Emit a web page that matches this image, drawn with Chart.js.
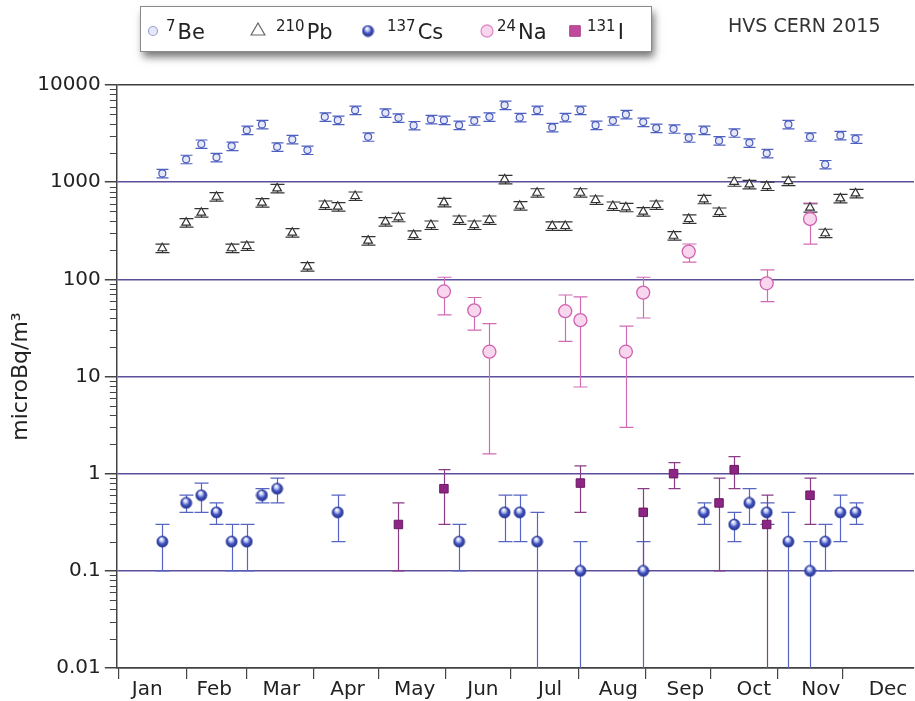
<!DOCTYPE html>
<html>
<head>
<meta charset="utf-8">
<script src="https://cdn.jsdelivr.net/npm/chart.js@4/dist/chart.umd.min.js"></script>
<style>
  html, body { margin: 0; padding: 0; background: #ffffff; }
  #wrap { width: 915px; height: 701px; }
</style>
</head>
<body>
<div id="wrap"><canvas id="chart" width="915" height="701"></canvas></div>
<script>
// Month labels, where they sit and where the month boundaries are (day of year)
const months = ['Jan', 'Feb', 'Mar', 'Apr', 'May', 'Jun', 'Jul', 'Aug', 'Sep', 'Oct', 'Nov', 'Dec'];
const monthLabelDays = [13, 44, 75, 105.5, 136.5, 168, 199, 230.5, 261.5, 293, 324, 355];
const monthStarts = [0, 31, 59, 90, 120, 151, 181, 212, 243, 273, 304, 334];
const yTicks = [0.01, 0.1, 1, 10, 100, 1000, 10000];

// Weekly filter days (day of year), shared by 7Be and 210Pb
const weekDays = [20, 31, 38, 45, 52, 59, 66, 73, 80, 87, 95, 101, 109, 115, 123, 129, 136, 144, 150, 157,
    164, 171, 178, 185, 193, 200, 206, 213, 220, 228, 234, 242, 248, 256, 263, 270, 277, 284, 291, 299,
    309, 319, 326, 333, 340];

// 7Be (microBq/m3)
const beValues = [1230, 1720, 2470, 1800, 2350, 3430, 3930, 2310, 2750, 2140, 4700, 4350, 5510, 2930, 5170,
    4590, 3830, 4420, 4350, 3860, 4280, 4700, 6200, 4630, 5510, 3660, 4630, 5510, 3860, 4280,
    4980, 4150, 3600, 3540, 2860, 3430, 2670, 3220, 2540, 1980, 3930, 2930, 1520, 3030, 2790];
const beRelErr = 0.1;

// 210Pb (microBq/m3)
const pbValues = [209, 383, 485, 708, 209, 220, 615, 863, 302, 135, 582, 559, 720, 250, 392,
    435, 286, 362, 620, 408, 362, 408, 1069, 572, 778, 354, 354, 778, 655, 568,
    551, 497, 582, 281, 418, 666, 493, 1009, 949, 912, 1026, 546, 298, 681, 767];
const pbRelErr = 0.1;

// 137Cs (a lower bound of 0 runs to the bottom of the axis)
const csDays = [20, 31, 38, 45, 52, 59, 66, 73, 101, 157, 178, 185, 193, 213, 242, 270, 284, 291, 299, 309, 319, 326, 333, 340];
const csValues = [0.2, 0.5, 0.6, 0.4, 0.2, 0.2, 0.6, 0.7, 0.4, 0.2, 0.4, 0.4, 0.2, 0.1, 0.1, 0.4, 0.3, 0.5, 0.4, 0.2, 0.1, 0.2, 0.4, 0.4];
const csLow = [0.1, 0.4, 0.4, 0.3, 0.1, 0.1, 0.5, 0.5, 0.2, 0.1, 0.2, 0.2, 0, 0, 0, 0.3, 0.2, 0.3, 0.3, 0, 0, 0.1, 0.2, 0.3];
const csHigh = [0.3, 0.6, 0.8, 0.5, 0.3, 0.3, 0.7, 0.9, 0.6, 0.3, 0.6, 0.6, 0.4, 0.2, 0.2, 0.5, 0.4, 0.7, 0.5, 0.4, 0.2, 0.3, 0.6, 0.5];

// 24Na
const naDays = [150, 164, 171, 206, 213, 234, 242, 263, 299, 319];
const naValues = [75, 48, 18, 47, 38, 18, 73, 193, 91, 418];
const naLow = [43, 30, 1.6, 23, 7.8, 3.0, 40, 150, 59, 230];
const naHigh = [105, 65, 35, 69, 66, 33, 105, 231, 125, 610];

// 131I
const iDays = [129, 150, 213, 242, 256, 277, 284, 299, 319];
const iValues = [0.3, 0.7, 0.8, 0.4, 1.0, 0.5, 1.1, 0.3, 0.6];
const iLow = [0.1, 0.3, 0.4, 0.1, 0.7, 0.1, 0.7, 0, 0.3];
const iHigh = [0.5, 1.1, 1.2, 0.7, 1.3, 0.9, 1.5, 0.6, 0.9];

const FONT = '"DejaVu Sans", Verdana, sans-serif';

function toPoints(days, values) {
    return days.map((d, i) => ({ x: d, y: values[i] }));
}

// shaded blue ball used as the 137Cs marker
function makeSphere(r) {
    const c = document.createElement('canvas');
    const s = Math.ceil(2 * r + 2);
    c.width = s;
    c.height = s;
    const g = c.getContext('2d');
    const cx = s / 2, cy = s / 2;
    const grad = g.createRadialGradient(cx - r * 0.2, cy - r * 0.5, r * 0.1, cx, cy, r);
    grad.addColorStop(0, '#ffffff');
    grad.addColorStop(0.35, '#aab4ee');
    grad.addColorStop(0.6, '#4456c0');
    grad.addColorStop(1, '#24328f');
    g.fillStyle = grad;
    g.beginPath();
    g.arc(cx, cy, r, 0, Math.PI * 2);
    g.fill();
    g.strokeStyle = '#2b3894';
    g.lineWidth = 0.8;
    g.stroke();
    return c;
}
const sphere = makeSphere(5.5);

// Error bars drawn under the markers
const errorBars = {
    id: 'errorBars',
    beforeDatasetsDraw(chart) {
        const { ctx, chartArea, scales } = chart;
        const x = scales.x, y = scales.y;
        ctx.save();
        ctx.beginPath();
        ctx.rect(chartArea.left, chartArea.top, chartArea.width, chartArea.height);
        ctx.clip();
        chart.data.datasets.forEach(ds => {
            if (!ds.errLow) return;
            ctx.strokeStyle = ds.errColor;
            ctx.lineWidth = 1.2;
            const cap = ds.capHalf;
            ds.data.forEach((p, i) => {
                const px = Math.round(x.getPixelForValue(p.x)) + 0.5;
                const hiV = ds.errHigh[i], loV = ds.errLow[i];
                const pyHi = y.getPixelForValue(hiV);
                const pyLo = loV > 0 ? y.getPixelForValue(loV) : chartArea.bottom + 2;
                ctx.beginPath();
                ctx.moveTo(px, pyHi);
                ctx.lineTo(px, pyLo);
                ctx.moveTo(px - cap, pyHi);
                ctx.lineTo(px + cap, pyHi);
                if (loV > 0) {
                    ctx.moveTo(px - cap, pyLo);
                    ctx.lineTo(px + cap, pyLo);
                }
                ctx.stroke();
            });
        });
        ctx.restore();
    }
};

// short minor tick marks on the log axis
const minorTicks = {
    id: 'minorTicks',
    afterDraw(chart) {
        const { ctx } = chart;
        const y = chart.scales.y;
        ctx.save();
        ctx.strokeStyle = '#444';
        ctx.lineWidth = 1;
        for (let k = -2; k < 4; k++) {
            for (let m = 2; m < 10; m++) {
                const py = Math.round(y.getPixelForValue(m * Math.pow(10, k))) + 0.5;
                ctx.beginPath();
                ctx.moveTo(y.right - 7, py);
                ctx.lineTo(y.right, py);
                ctx.stroke();
            }
        }
        ctx.restore();
    }
};

// boxed legend with drop shadow, plus the "HVS CERN 2015" note
const SUP = '⁰¹²³⁴⁵⁶⁷⁸⁹';
const legendMarkX = [153, 258, 368, 487, 575];
const legendTextX = [166, 276, 387, 497, 587];
const boxLegend = {
    id: 'boxLegend',
    afterDraw(chart) {
        const { ctx } = chart;
        ctx.save();
        ctx.shadowColor = 'rgba(0,0,0,0.55)';
        ctx.shadowBlur = 8;
        ctx.shadowOffsetX = 3;
        ctx.shadowOffsetY = 6;
        ctx.fillStyle = '#ffffff';
        ctx.fillRect(140, 6, 511, 45);
        ctx.restore();
        ctx.save();
        ctx.strokeStyle = '#8a8a8a';
        ctx.lineWidth = 1;
        ctx.strokeRect(140.5, 6.5, 511, 45);
        ctx.textBaseline = 'alphabetic';
        chart.data.datasets.forEach((ds, i) => {
            const mx = legendMarkX[i];
            ctx.fillStyle = ds.legendFill || ds.pointBackgroundColor;
            ctx.strokeStyle = ds.legendBorder || ds.pointBorderColor;
            ctx.lineWidth = ds.pointBorderWidth || 1;
            Chart.helpers.drawPoint(ctx, {
                pointStyle: ds.pointStyle,
                rotation: 0,
                radius: ds.legendRadius,
                borderWidth: ds.pointBorderWidth || 0
            }, mx, 31);
            // mass number as a raised smaller run, symbol at full size
            let sup = '', sym = '';
            for (const ch of ds.label) {
                const k = SUP.indexOf(ch);
                if (k >= 0) sup += String(k); else sym += ch;
            }
            ctx.fillStyle = '#222';
            ctx.font = '15px ' + FONT;
            ctx.fillText(sup, legendTextX[i], 31);
            const w = ctx.measureText(sup).width;
            ctx.font = '21px ' + FONT;
            ctx.fillText(sym, legendTextX[i] + w + 2, 39);
        });
        ctx.font = '19px ' + FONT;
        ctx.fillStyle = '#333';
        ctx.textBaseline = 'middle';
        ctx.fillText('HVS CERN 2015', 728, 27);
        ctx.restore();
    }
};

const datasets = [
    {
        label: '⁷Be',
        data: toPoints(weekDays, beValues),
        errLow: beValues.map(v => v * (1 - beRelErr)),
        errHigh: beValues.map(v => v * (1 + beRelErr)),
        errColor: '#4d5fbf',
        capHalf: 6,
        pointStyle: 'circle',
        pointRadius: 3.5,
        legendRadius: 4.5,
        legendBorder: '#9aa3d8',
        pointBackgroundColor: '#e6e8f8',
        pointBorderColor: '#4d5fbf',
        pointBorderWidth: 1.2
    },
    {
        label: '²¹⁰Pb',
        data: toPoints(weekDays, pbValues),
        errLow: pbValues.map(v => v * (1 - pbRelErr)),
        errHigh: pbValues.map(v => v * (1 + pbRelErr)),
        errColor: '#333333',
        capHalf: 7,
        pointStyle: 'triangle',
        pointRadius: 5,
        legendRadius: 8,
        legendBorder: '#666666',
        pointBackgroundColor: '#ffffff',
        pointBorderColor: '#333333',
        pointBorderWidth: 1.2
    },
    {
        label: '¹³⁷Cs',
        data: toPoints(csDays, csValues),
        errLow: csLow,
        errHigh: csHigh,
        errColor: '#5664c2',
        capHalf: 7,
        pointStyle: sphere,
        pointRadius: 5.5,
        legendRadius: 6,
        pointBackgroundColor: '#4456c0',
        pointBorderColor: '#2b3894',
        pointBorderWidth: 0
    },
    {
        label: '²⁴Na',
        data: toPoints(naDays, naValues),
        errLow: naLow,
        errHigh: naHigh,
        errColor: '#d26ab6',
        capHalf: 7,
        pointStyle: 'circle',
        pointRadius: 6.5,
        legendRadius: 6,
        legendBorder: '#e08cc8',
        pointBackgroundColor: '#f8d6ee',
        pointBorderColor: '#d062b0',
        pointBorderWidth: 1.3
    },
    {
        label: '¹³¹I',
        data: toPoints(iDays, iValues),
        errLow: iLow,
        errHigh: iHigh,
        errColor: '#8a3c86',
        capHalf: 6,
        pointStyle: 'rect',
        pointRadius: 6,
        legendRadius: 7.5,
        legendFill: '#c04a9c',
        legendBorder: '#b0408e',
        pointBackgroundColor: '#8c2584',
        pointBorderColor: '#6b1a63',
        pointBorderWidth: 1
    }
];
datasets.forEach(ds => { ds.showLine = false; ds.pointHoverRadius = ds.pointRadius; });

new Chart(document.getElementById('chart'), {
    type: 'scatter',
    data: { datasets: datasets },
    plugins: [errorBars, minorTicks, boxLegend],
    options: {
        responsive: false,
        devicePixelRatio: 1,
        animation: false,
        layout: { autoPadding: false, padding: { top: 85, left: 9, right: 1, bottom: 0 } },
        plugins: {
            legend: { display: false },
            tooltip: { enabled: false }
        },
        scales: {
            // data axis: only draws the month-boundary tick marks
            x: {
                type: 'linear',
                position: 'bottom',
                weight: 0,
                min: -1,
                max: 367,
                afterBuildTicks: scale => {
                    scale.ticks = monthStarts.map(v => ({ value: v }));
                },
                ticks: { display: false },
                grid: {
                    drawOnChartArea: false,
                    tickLength: 11,
                    color: '#444',
                    lineWidth: 1.2
                },
                border: { color: '#444', width: 1.5 }
            },
            // label axis: month names between the tick marks
            months: {
                type: 'linear',
                axis: 'x',
                position: 'bottom',
                weight: 1,
                min: -1,
                max: 367,
                afterBuildTicks: scale => {
                    scale.ticks = monthLabelDays.map(v => ({ value: v }));
                },
                ticks: {
                    autoSkip: false,
                    maxRotation: 0,
                    padding: 1,
                    color: '#222',
                    font: { family: FONT, size: 20, lineHeight: 1 },
                    callback: (v, i) => months[i]
                },
                grid: { display: false, drawTicks: false },
                border: { display: false }
            },
            y: {
                type: 'logarithmic',
                min: 0.01,
                max: 10000,
                afterBuildTicks: scale => {
                    scale.ticks = yTicks.map(v => ({ value: v, major: true }));
                },
                ticks: {
                    padding: 4,
                    color: '#222',
                    font: { family: FONT, size: 20, lineHeight: 1 },
                    callback: v => (v >= 1 ? v.toFixed(0) : String(v))
                },
                grid: {
                    color: c => (c.tick && (c.tick.value === 10000 || c.tick.value === 0.01)) ? '#3c3c3c' : '#5d4e9c',
                    lineWidth: 1.5,
                    tickLength: 12,
                    tickColor: '#444'
                },
                border: { color: '#444', width: 1.5 },
                title: {
                    display: true,
                    text: 'microBq/m³',
                    color: '#222',
                    font: { family: FONT, size: 22, lineHeight: 1.1 },
                    padding: { top: 0, bottom: 0 }
                }
            }
        }
    }
});
</script>
</body>
</html>
